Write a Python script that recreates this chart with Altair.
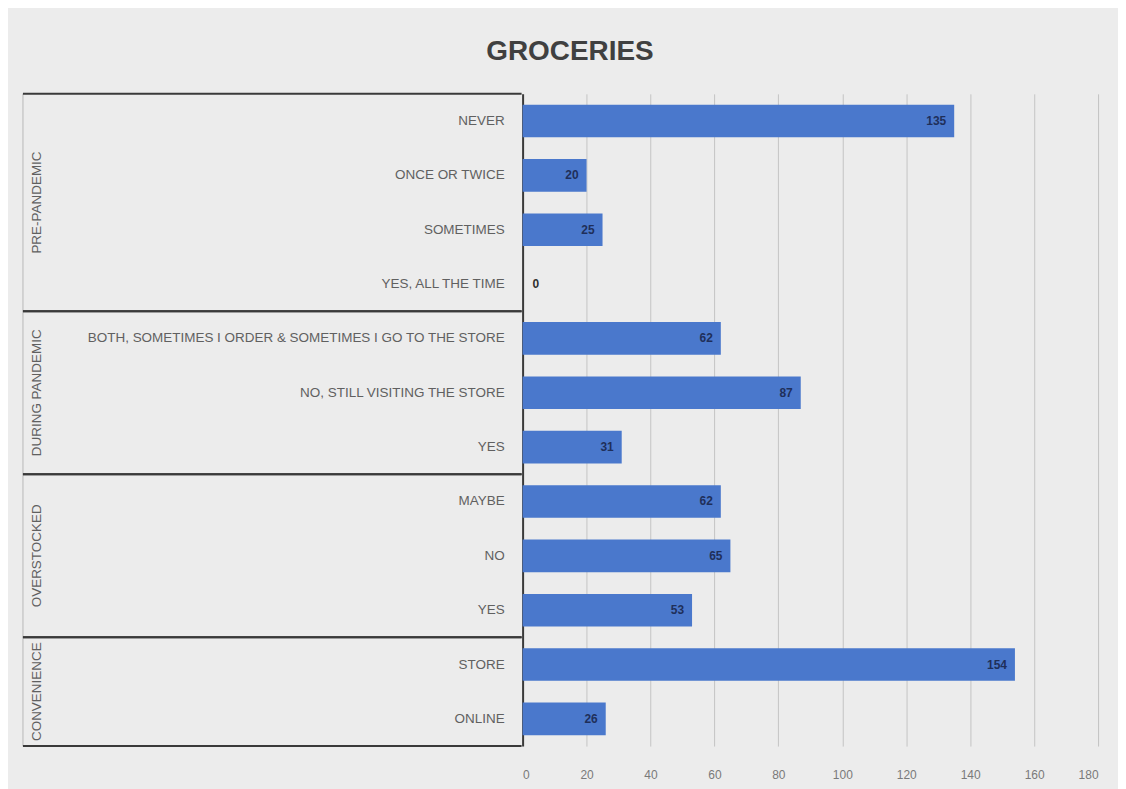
import altair as alt
import pandas as pd

# ---- data ----
groups = ["PRE-PANDEMIC"] * 4 + ["DURING PANDEMIC"] * 3 + ["OVERSTOCKED"] * 3 + ["CONVENIENCE"] * 2
labels = [
    "NEVER", "ONCE OR TWICE", "SOMETIMES", "YES, ALL THE TIME",
    "BOTH, SOMETIMES I ORDER & SOMETIMES I GO TO THE STORE", "NO, STILL VISITING THE STORE", "YES",
    "MAYBE", "NO", "YES",
    "STORE", "ONLINE",
]
values = [135, 20, 25, 0, 62, 87, 31, 62, 65, 53, 154, 26]
x_ticks = [0, 20, 40, 60, 80, 100, 120, 140, 160, 180]

df = pd.DataFrame({
    "idx": list(range(len(labels))),
    "label": labels,
    "group": groups,
    "value": values,
})

FONT = "Liberation Sans Narrow, Liberation Sans, sans-serif"
BAR = "#4a78cc"
LINE = "#3a3a3a"
N = len(labels)
yscale = alt.Scale(domain=[-0.5, N - 0.5], reverse=True, nice=False, zero=False)

LEFT_W, RIGHT_W, H = 500, 577, 654

base = alt.Chart(df)

# ---------- left panel: row labels and group boxes ----------
row_text = base.mark_text(align="right", baseline="middle", font=FONT, fontSize=13.5, color="#606060").encode(
    x=alt.value(LEFT_W - 17),
    y=alt.Y("idx:Q", scale=yscale, axis=None),
    text="label:N",
)

grp = base.transform_aggregate(
    lo="min(idx)", hi="max(idx)", groupby=["group"]
).transform_calculate(
    top="datum.lo - 0.5", bot="datum.hi + 0.5", mid="(datum.lo + datum.hi) / 2"
)

grp_top = grp.mark_rule(color=LINE, strokeWidth=2).encode(
    y=alt.Y("top:Q", scale=yscale, axis=None), x=alt.value(0), x2=alt.value(LEFT_W)
)
grp_bot = grp.mark_rule(color=LINE, strokeWidth=2).encode(
    y=alt.Y("bot:Q", scale=yscale, axis=None), x=alt.value(0), x2=alt.value(LEFT_W)
)
grp_left = grp.mark_rule(color="#b8b8b8", strokeWidth=1).encode(
    y=alt.Y("top:Q", scale=yscale, axis=None), y2="bot:Q", x=alt.value(0)
)
grp_text = grp.mark_text(angle=270, align="center", baseline="middle", font=FONT, fontSize=13.5, color="#606060").encode(
    y=alt.Y("mid:Q", scale=yscale, axis=None),
    x=alt.value(14),
    text="group:N",
)

left = alt.layer(grp_left, grp_top, grp_bot, grp_text, row_text).properties(width=LEFT_W, height=H)

# ---------- right panel: bars ----------
xscale = alt.Scale(domain=[0, 180], nice=False)
xaxis = alt.Axis(values=x_ticks, grid=True, gridColor="#c4c4c4", gridWidth=1, domain=False, ticks=False,
                 labelColor="#7a7a7a", labelFont=FONT, labelFontSize=12, labelPadding=24, title=None)

bars = base.transform_calculate(
    y0="datum.idx - 0.3", y1="datum.idx + 0.3"
).mark_rect(color=BAR).encode(
    x=alt.X("value:Q", scale=xscale, axis=xaxis),
    x2=alt.datum(0),
    y=alt.Y("y0:Q", scale=yscale,
            axis=alt.Axis(labels=False, ticks=False, grid=False, domainColor=LINE, domainWidth=2, title=None)),
    y2="y1:Q",
)

lbl_in = base.transform_filter("datum.value > 0").mark_text(
    align="right", baseline="middle", dx=-8, font=FONT, fontSize=12, fontWeight="bold", color="#1f2f5a"
).encode(
    x=alt.X("value:Q", scale=xscale),
    y=alt.Y("idx:Q", scale=yscale),
    text="value:Q",
)
lbl_zero = base.transform_filter("datum.value == 0").mark_text(
    align="left", baseline="middle", dx=10, font=FONT, fontSize=12, fontWeight="bold", color="#303030"
).encode(
    x=alt.X("value:Q", scale=xscale),
    y=alt.Y("idx:Q", scale=yscale),
    text="value:Q",
)

right = alt.layer(bars, lbl_in, lbl_zero).properties(width=RIGHT_W, height=H)

chart = alt.hconcat(left, right, spacing=0).properties(
    title=alt.TitleParams("GROCERIES", font=FONT, fontSize=28, fontWeight="bold", color="#404040",
                          anchor="middle", offset=27, dx=10),
    background="#ececec",
    padding={"left": 14, "top": 29, "right": 20, "bottom": 12},
).configure_view(stroke=None).configure_concat(spacing=0)

chart.save("out.html", embed_options={"renderer": "svg", "actions": False})
